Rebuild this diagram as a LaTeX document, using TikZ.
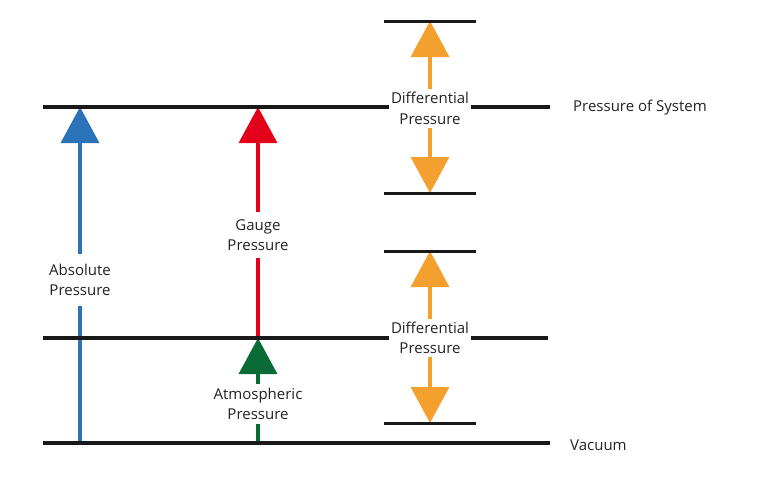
\documentclass[tikz,border=0pt]{standalone}
\usepackage{fontspec}
\setmainfont{Open Sans}
\usetikzlibrary{arrows.meta}
\definecolor{absblue}{HTML}{2A73B8}
\definecolor{gaugered}{HTML}{E2001A}
\definecolor{atmgreen}{HTML}{0B6B37}
\definecolor{difforange}{HTML}{F3A02F}
\definecolor{txtgray}{HTML}{222222}
\tikzset{
  lbl/.style={font=\fontsize{15}{20.5}\selectfont, text=txtgray, align=center, inner xsep=2pt},
  sidelbl/.style={font=\fontsize{15}{20.5}\selectfont, text=txtgray, anchor=west, inner sep=0pt},
  mainline/.style={line width=4pt, black!90},
  shortline/.style={line width=3pt, black!90},
  arr/.style={line width=3.5pt, -{Triangle[length=36pt,width=38pt]}},
  plain/.style={line width=3.5pt},
}
\begin{document}
\begin{tikzpicture}[x=1pt,y=-1pt]
\useasboundingbox (0,0) rectangle (760,480);
% coordinates
\coordinate (sysL) at (43,107);
\coordinate (sysR) at (550,107);
\coordinate (atmL) at (43,338);
\coordinate (atmR) at (548,338);
\coordinate (vacL) at (43,443);
\coordinate (vacR) at (550,443);
\coordinate (absTop) at (80,107);
\coordinate (absBot) at (80,443);
\coordinate (gTop) at (258,107);
\coordinate (gBot) at (258,338);
\coordinate (aTop) at (258,338);
\coordinate (aBot) at (258,443);
\coordinate (d1Top) at (430,21);
\coordinate (d1Bot) at (430,193);
\coordinate (d2Top) at (430,251);
\coordinate (d2Bot) at (430,423);
% labels
\node[lbl, inner ysep=10pt] (abs) at (80,280) {Absolute\\Pressure};
\node[lbl, inner ysep=7.5pt] (gauge) at (258,235) {Gauge\\Pressure};
\node[lbl, inner ysep=3.5pt] (atm) at (258,404) {Atmospheric\\Pressure};
\node[lbl, inner ysep=3pt] (diff1) at (430,108.5) {Differential\\Pressure};
\node[lbl, inner ysep=3pt] (diff2) at (430,338) {Differential\\Pressure};
\node[sidelbl] (sys) at (573,108) {Pressure of System};
\node[sidelbl] (vac) at (570,445) {Vacuum};
% coloured arrows
\draw[arr, absblue] (abs.north) -- (absTop);
\draw[plain, absblue] (abs.south) -- (absBot);
\draw[arr, gaugered] (gauge.north) -- (gTop);
\draw[plain, gaugered] (gauge.south) -- (gBot);
\draw[arr, atmgreen] (atm.north) -- (aTop);
\draw[plain, atmgreen] (atm.south) -- (aBot);
\draw[arr, difforange] (diff1.north) -- (d1Top);
\draw[arr, difforange] (diff1.south) -- (d1Bot);
\draw[arr, difforange] (diff2.north) -- (d2Top);
\draw[arr, difforange] (diff2.south) -- (d2Bot);
% black lines
\draw[mainline] (sysL) -- (sysL -| diff1.west);
\draw[mainline] (sysR -| diff1.east) -- (sysR);
\draw[mainline] (atmL) -- (atmL -| diff2.west);
\draw[mainline] (atmR -| diff2.east) -- (atmR);
\draw[mainline] (vacL) -- (vacR);
\draw[shortline] (384,21) -- (476,21);
\draw[shortline] (384,193) -- (476,193);
\draw[shortline] (384,251) -- (476,251);
\draw[shortline] (384,423) -- (476,423);
\end{tikzpicture}
\end{document}
